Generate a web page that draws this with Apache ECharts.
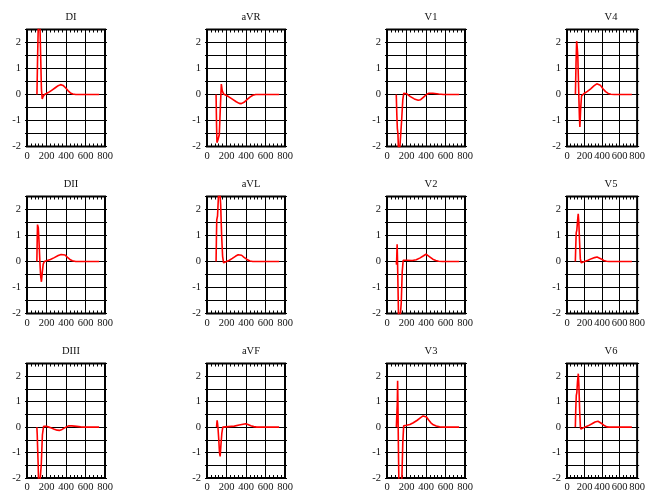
<!DOCTYPE html>
<html>
<head>
<meta charset="utf-8">
<script src="https://cdn.jsdelivr.net/npm/echarts@6/dist/echarts.min.js"></script>
<style>html,body{margin:0;padding:0;background:#fff}#c{width:648px;height:493px}</style>
</head>
<body>
<div id="c"></div>
<script>
// ---- data (time in ms, amplitude in mV) ----
const leads = ['DI','aVR','V1','V4','DII','aVL','V2','V5','DIII','aVF','V3','V6'];
const xTicks = [0, 200, 400, 600, 800];
const yTicks = [-2, -1, 0, 1, 2];

const DI = [[102,0],[109,1.5],[116,2.7],[124,3.1],[132,2.8],[140,1.5],[148,0.2],[156,-0.17],[165,-0.08],[180,0],[200,0.03],[230,0.1],[260,0.18],[290,0.26],[320,0.34],[345,0.38],[370,0.35],[395,0.26],[420,0.15],[445,0.06],[470,0.02],[500,0],[740,0]];
const aVR = [[93,0],[98,-1.2],[102,-1.85],[112,-1.75],[126,-1.55],[138,-0.4],[147,0.4],[156,0.15],[170,0.02],[185,0],[220,-0.08],[260,-0.18],[300,-0.28],[330,-0.34],[352,-0.35],[380,-0.3],[410,-0.2],[440,-0.1],[470,-0.03],[500,0],[740,0]];
const V1 = [[95,0],[101,-0.8],[106,-1.3],[112,-1.5],[122,-2.6],[136,-2.6],[150,-1.0],[162,-0.2],[172,0.05],[200,0.03],[240,-0.08],[280,-0.17],[320,-0.22],[345,-0.2],[375,-0.1],[405,0.0],[430,0.05],[470,0.05],[530,0.02],[580,0],[740,0]];
const V4 = [[96,0],[103,1.2],[110,2.05],[117,1.8],[123,1.5],[133,0.2],[142,-0.9],[147,-1.25],[155,-0.6],[166,-0.05],[175,0],[200,0.05],[233,0.12],[270,0.22],[310,0.34],[340,0.41],[357,0.42],[380,0.36],[410,0.22],[440,0.11],[470,0.04],[500,0.01],[540,0],[740,0]];
const DII = [[101,0],[105,0.9],[108,1.42],[112,1.35],[116,1.3],[124,0.7],[132,0.0],[140,-0.55],[148,-0.78],[156,-0.45],[166,-0.1],[178,0],[200,0.03],[240,0.08],[280,0.15],[320,0.23],[350,0.27],[366,0.29],[390,0.25],[415,0.16],[440,0.08],[465,0.03],[500,0],[740,0]];
const aVL = [[93,0],[97,1.0],[100,1.6],[108,1.75],[116,2.4],[124,3.1],[132,3.1],[140,2.2],[150,1.0],[160,0.2],[170,-0.05],[185,-0.02],[200,0],[230,0.05],[260,0.12],[295,0.21],[320,0.26],[335,0.27],[355,0.24],[380,0.16],[410,0.08],[440,0.02],[470,0],[740,0]];
const V2 = [[95,0],[98,-0.12],[101,0.3],[104,0.66],[107,0.2],[113,-1.0],[121,-2.8],[136,-2.8],[146,-1.6],[156,-0.4],[166,0.05],[200,0.05],[260,0.04],[300,0.07],[340,0.14],[375,0.22],[400,0.28],[420,0.24],[445,0.16],[470,0.09],[500,0.04],[530,0.01],[570,0],[740,0]];
const V5 = [[95,0],[100,0.6],[105,1.1],[112,1.2],[120,1.55],[128,1.83],[135,1.5],[143,0.8],[152,0.1],[162,-0.05],[178,-0.02],[200,0],[240,0.05],[280,0.11],[315,0.15],[343,0.17],[365,0.15],[390,0.1],[420,0.04],[450,0.01],[480,0],[740,0]];
const DIII = [[101,0],[105,-0.3],[108,-0.7],[114,-1.4],[122,-2.7],[136,-2.7],[146,-1.5],[158,-0.3],[170,0.03],[178,0.05],[200,0.03],[240,-0.02],[280,-0.08],[310,-0.12],[332,-0.13],[360,-0.09],[390,-0.02],[410,0.03],[425,0.05],[460,0.05],[510,0.03],[550,0.01],[580,0],[740,0]];
const aVF = [[98,0],[101,0.15],[104,0.27],[108,0.15],[113,-0.05],[120,-0.45],[128,-1.0],[135,-1.15],[143,-0.7],[152,-0.25],[162,0],[172,0.02],[220,0.02],[280,0.04],[330,0.08],[370,0.11],[397,0.13],[420,0.1],[450,0.05],[480,0.02],[510,0],[740,0]];
const V3 = [[96,0],[104,0],[106,1.0],[109,1.82],[112,1.0],[117,-0.8],[124,-2.8],[146,-2.8],[154,-1.8],[162,-0.6],[171,0.05],[200,0.07],[235,0.1],[270,0.17],[310,0.27],[345,0.37],[370,0.44],[388,0.47],[405,0.4],[425,0.29],[450,0.17],[475,0.09],[505,0.04],[540,0.01],[580,0],[740,0]];
const V6 = [[95,0],[100,0.7],[106,1.25],[112,1.35],[120,1.8],[129,2.1],[136,1.6],[145,0.6],[153,0.0],[158,-0.08],[170,-0.05],[190,-0.02],[200,0],[240,0.05],[280,0.12],[320,0.2],[353,0.23],[375,0.2],[400,0.13],[430,0.05],[455,0.01],[480,0],[740,0]];

const leadData = {DI, aVR, V1, V4, DII, aVL, V2, V5, DIII, aVF, V3, V6};

// ---- layout ----
const colLeft = [27, 207, 387, 567];
const rowTop = [29.5, 196.5, 363.5];
const boxW = 78, boxH = 117;
const serif = 'Liberation Serif, Times New Roman, serif';

const grids = [], xAxes = [], yAxes = [], series = [], titles = [];
leads.forEach((name, i) => {
  const r = Math.floor(i / 4), c = i % 4;
  grids.push({left: colLeft[c], top: rowTop[r], width: boxW, height: boxH,
    show: true, borderColor: '#000', borderWidth: 2, backgroundColor: 'transparent', containLabel: false});
  const xCommon = {
    type: 'value', gridIndex: i, min: xTicks[0], max: xTicks[xTicks.length - 1], interval: 200,
    axisLine: {show: false, onZero: false},
    axisTick: {show: true, inside: true, length: 3, lineStyle: {color: '#000', width: 1}},
    minorTick: {show: true, splitNumber: 5, length: 3, lineStyle: {color: '#000', width: 1}}
  };
  xAxes.push(Object.assign({}, xCommon, {
    position: 'bottom',
    splitLine: {show: true, lineStyle: {color: '#000', width: 1}},
    axisLabel: {show: true, color: '#111', fontFamily: serif, fontSize: 10.5, margin: 4,
      formatter: v => xTicks.includes(v) ? String(v) : ''}
  }));
  xAxes.push(Object.assign({}, xCommon, {
    position: 'top', splitLine: {show: false}, axisLabel: {show: false}
  }));
  const yCommon = {
    type: 'value', gridIndex: i, min: -2, max: 2.5, interval: 0.5,
    axisLine: {show: false, onZero: false},
    axisTick: {show: true, length: 2, lineStyle: {color: '#000', width: 1}}
  };
  yAxes.push(Object.assign({}, yCommon, {
    position: 'left',
    splitLine: {show: true, lineStyle: {color: '#000', width: 1}},
    axisLabel: {show: true, color: '#111', fontFamily: serif, fontSize: 10.5, margin: 6,
      formatter: v => yTicks.includes(v) ? String(v) : ''}
  }));
  yAxes.push(Object.assign({}, yCommon, {
    position: 'right', splitLine: {show: false}, axisLabel: {show: false}
  }));
  series.push({
    type: 'line', name: name, xAxisIndex: 2 * i, yAxisIndex: 2 * i,
    data: leadData[name], showSymbol: false, symbol: 'none', clip: true,
    lineStyle: {color: '#ff0000', width: 1.6}, animation: false, z: 5
  });
  titles.push({
    text: name, left: colLeft[c] + boxW / 2, top: rowTop[r] - 23, textAlign: 'center',
    textStyle: {fontFamily: serif, fontSize: 10.5, fontWeight: 'normal', color: '#111'}
  });
});

const chart = echarts.init(document.getElementById('c'), null, {renderer: 'canvas'});
chart.setOption({
  backgroundColor: '#fff', animation: false,
  title: titles, grid: grids, xAxis: xAxes, yAxis: yAxes, series: series
});
</script>
</body>
</html>
